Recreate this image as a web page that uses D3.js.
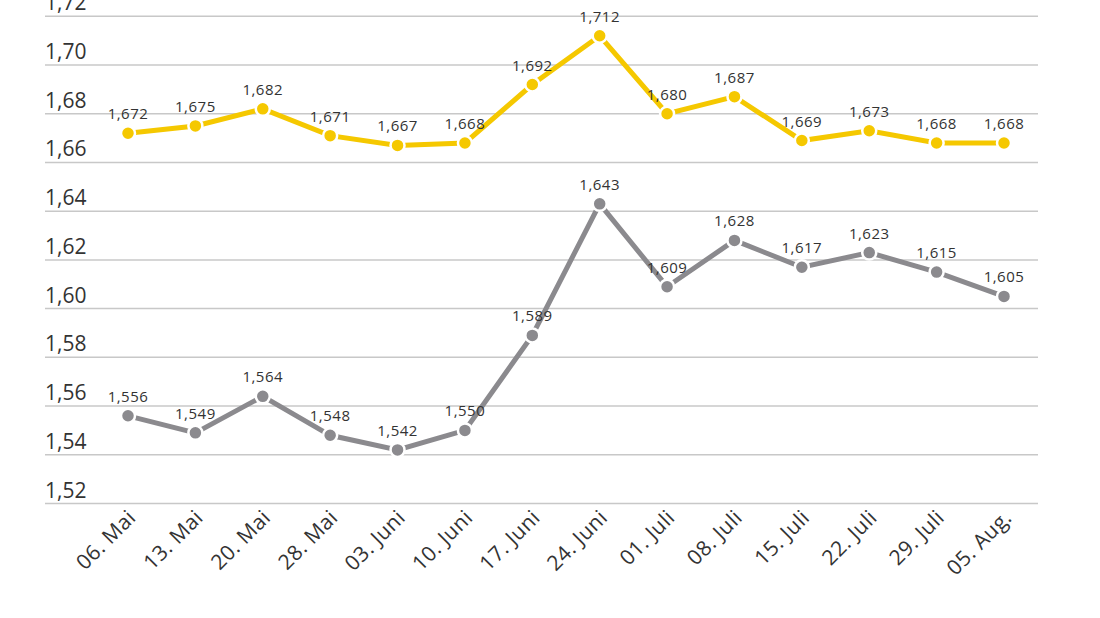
<!DOCTYPE html>
<html>
<head>
<meta charset="utf-8">
<script src="https://cdn.jsdelivr.net/npm/d3@7"></script>
<style>
  html, body { margin: 0; padding: 0; background: #fff; }
  svg { display: block; font-family: "Open Sans", "DejaVu Sans", sans-serif; }
</style>
</head>
<body>
<div id="chart"></div>
<script>
(() => {
  const dates = ["06. Mai", "13. Mai", "20. Mai", "28. Mai", "03. Juni", "10. Juni", "17. Juni",
    "24. Juni", "01. Juli", "08. Juli", "15. Juli", "22. Juli", "29. Juli", "05. Aug."];
  const yellowValues = [1.672, 1.675, 1.682, 1.671, 1.667, 1.668, 1.692, 1.712, 1.680, 1.687, 1.669, 1.673, 1.668, 1.668];
  const greyValues = [1.556, 1.549, 1.564, 1.548, 1.542, 1.550, 1.589, 1.643, 1.609, 1.628, 1.617, 1.623, 1.615, 1.605];
  const yTicks = [1.52, 1.54, 1.56, 1.58, 1.60, 1.62, 1.64, 1.66, 1.68, 1.70, 1.72];

  const width = 1100;
  const height = 618;

  const x = d3.scalePoint().domain(dates).range([128, 1004]);
  const y = d3.scaleLinear().domain([1.52, 1.72]).range([503.5, 16.3]);

  const fmt = v => d3.format(".3f")(v).replace(".", ",");
  const fmtTick = v => d3.format(".2f")(v).replace(".", ",");

  const svg = d3.select("#chart").append("svg")
    .attr("width", width)
    .attr("height", height);

  // gridlines + tick labels
  const grid = svg.append("g");
  grid.selectAll("line")
    .data(yTicks)
    .join("line")
    .attr("x1", 45).attr("x2", 1038)
    .attr("y1", d => y(d)).attr("y2", d => y(d))
    .attr("stroke", "#c8c8c8")
    .attr("stroke-width", 1.5);

  grid.selectAll("text")
    .data(yTicks)
    .join("text")
    .attr("x", 45)
    .attr("y", d => y(d) - 6)
    .attr("fill", "#333")
    .style("font-size", "21px")
    .text(fmtTick);

  // x labels
  svg.append("g")
    .selectAll("text")
    .data(dates)
    .join("text")
    .attr("transform", d => `translate(${x(d) + 9},${519}) rotate(-45)`)
    .attr("text-anchor", "end")
    .attr("fill", "#333")
    .style("font-size", "21px")
    .style("font-weight", 500)
    .style("letter-spacing", "0.4px")
    .text(d => d);

  const series = [
    { values: yellowValues, color: "#f5c800" },
    { values: greyValues, color: "#8b8a8e" }
  ];

  const line = d3.line()
    .x((d, i) => x(dates[i]))
    .y(d => y(d));

  series.forEach(s => {
    const g = svg.append("g");
    g.append("path")
      .datum(s.values)
      .attr("fill", "none")
      .attr("stroke", s.color)
      .attr("stroke-width", 5)
      .attr("d", line);

    g.selectAll("circle")
      .data(s.values)
      .join("circle")
      .attr("cx", (d, i) => x(dates[i]))
      .attr("cy", d => y(d))
      .attr("r", 7)
      .attr("fill", s.color)
      .attr("stroke", "#fff")
      .attr("stroke-width", 2.5);

    g.selectAll("text")
      .data(s.values)
      .join("text")
      .attr("x", (d, i) => x(dates[i]))
      .attr("y", d => y(d) - 14)
      .attr("text-anchor", "middle")
      .attr("fill", "#333")
      .style("font-size", "15px")
      .style("letter-spacing", "0.5px")
      .text(fmt);
  });
})();
</script>
</body>
</html>
